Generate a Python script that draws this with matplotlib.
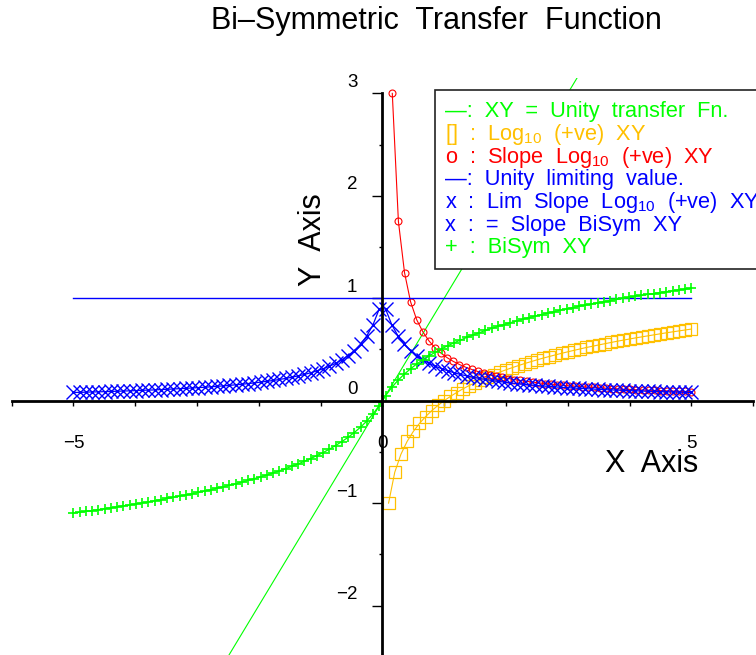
# Bi-symmetric transfer function chart

import matplotlib
matplotlib.use("Agg")
import matplotlib.pyplot as plt
import matplotlib.transforms as mtransforms
from matplotlib.patches import Rectangle

plt.rcParams['font.family'] = ['Liberation Sans', 'DejaVu Sans']
plt.rcParams['mathtext.fontset'] = 'custom'
plt.rcParams['mathtext.rm'] = 'Liberation Sans'
plt.rcParams['mathtext.it'] = 'Liberation Sans:italic'

GREEN = '#00ff00'
ORANGE = '#ffc000'
RED = '#ff0000'
BLUE = '#0000ff'

# unity transfer line and unity limiting value
unity_x = [-5.0, 5.0]
unity_y = [-5.0, 5.0]
limit_x = [-5.0, 5.0]
limit_y = [1.0, 1.0]

# log10 of positive x
log_x = [0.1, 0.2, 0.3, 0.4, 0.5, 0.6, 0.7, 0.8, 0.9, 1.0,
         1.1, 1.2, 1.3, 1.4, 1.5, 1.6, 1.7, 1.8, 1.9, 2.0,
         2.1, 2.2, 2.3, 2.4, 2.5, 2.6, 2.7, 2.8, 2.9, 3.0,
         3.1, 3.2, 3.3, 3.4, 3.5, 3.6, 3.7, 3.8, 3.9, 4.0,
         4.1, 4.2, 4.3, 4.4, 4.5, 4.6, 4.7, 4.8, 4.9, 5.0]
log_y = [-1.000, -0.699, -0.523, -0.398, -0.301, -0.222, -0.155, -0.097, -0.046, 0.000,
         0.041, 0.079, 0.114, 0.146, 0.176, 0.204, 0.230, 0.255, 0.279, 0.301,
         0.322, 0.342, 0.362, 0.380, 0.398, 0.415, 0.431, 0.447, 0.462, 0.477,
         0.491, 0.505, 0.519, 0.531, 0.544, 0.556, 0.568, 0.580, 0.591, 0.602,
         0.613, 0.623, 0.633, 0.643, 0.653, 0.663, 0.672, 0.681, 0.690, 0.699]

# slope of log10
slope_log_x = [0.160, 0.259, 0.358, 0.456, 0.555, 0.654, 0.753, 0.852, 0.950, 1.049,
               1.148, 1.247, 1.346, 1.444, 1.543, 1.642, 1.741, 1.840, 1.938, 2.037,
               2.136, 2.235, 2.334, 2.432, 2.531, 2.630, 2.729, 2.828, 2.926, 3.025,
               3.124, 3.223, 3.322, 3.420, 3.519, 3.618, 3.717, 3.816, 3.914, 4.013,
               4.112, 4.211, 4.310, 4.408, 4.507, 4.606, 4.705, 4.804, 4.902, 5.000]
slope_log_y = [3.000, 1.750, 1.250, 0.965, 0.790, 0.673, 0.584, 0.516, 0.463, 0.419,
               0.383, 0.353, 0.327, 0.305, 0.285, 0.268, 0.253, 0.239, 0.227, 0.216,
               0.206, 0.197, 0.189, 0.181, 0.174, 0.167, 0.161, 0.156, 0.150, 0.145,
               0.141, 0.137, 0.132, 0.129, 0.125, 0.122, 0.118, 0.115, 0.112, 0.110,
               0.107, 0.104, 0.102, 0.100, 0.098, 0.096, 0.094, 0.092, 0.090, 0.088]

# bi-symmetric curve and its slope
bisym_x = [-5.000, -4.899, -4.798, -4.697, -4.596, -4.495, -4.394, -4.293, -4.192, -4.091,
           -3.990, -3.889, -3.788, -3.687, -3.586, -3.485, -3.384, -3.283, -3.182, -3.081,
           -2.980, -2.879, -2.778, -2.677, -2.576, -2.475, -2.374, -2.273, -2.172, -2.071,
           -1.970, -1.869, -1.768, -1.667, -1.566, -1.465, -1.364, -1.263, -1.162, -1.061,
           -0.960, -0.859, -0.758, -0.657, -0.556, -0.455, -0.354, -0.253, -0.152, -0.051,
           0.051, 0.152, 0.253, 0.354, 0.455, 0.556, 0.657, 0.758, 0.859, 0.960,
           1.061, 1.162, 1.263, 1.364, 1.465, 1.566, 1.667, 1.768, 1.869, 1.970,
           2.071, 2.172, 2.273, 2.374, 2.475, 2.576, 2.677, 2.778, 2.879, 2.980,
           3.081, 3.182, 3.283, 3.384, 3.485, 3.586, 3.687, 3.788, 3.889, 3.990,
           4.091, 4.192, 4.293, 4.394, 4.495, 4.596, 4.697, 4.798, 4.899, 5.000]
bisym_y = [-1.097, -1.089, -1.081, -1.073, -1.064, -1.055, -1.046, -1.037, -1.027, -1.018,
           -1.008, -0.998, -0.988, -0.977, -0.967, -0.955, -0.944, -0.932, -0.921, -0.908,
           -0.896, -0.883, -0.869, -0.855, -0.841, -0.826, -0.811, -0.795, -0.778, -0.761,
           -0.743, -0.725, -0.705, -0.685, -0.663, -0.641, -0.617, -0.592, -0.565, -0.537,
           -0.507, -0.474, -0.438, -0.400, -0.358, -0.311, -0.259, -0.199, -0.130, -0.048,
           0.048, 0.130, 0.199, 0.259, 0.311, 0.358, 0.400, 0.438, 0.474, 0.507,
           0.537, 0.565, 0.592, 0.617, 0.641, 0.663, 0.685, 0.705, 0.725, 0.743,
           0.761, 0.778, 0.795, 0.811, 0.826, 0.841, 0.855, 0.869, 0.883, 0.896,
           0.908, 0.921, 0.932, 0.944, 0.955, 0.967, 0.977, 0.988, 0.998, 1.008,
           1.018, 1.027, 1.037, 1.046, 1.055, 1.064, 1.073, 1.081, 1.089, 1.097]
bisym_slope = [0.080, 0.081, 0.083, 0.085, 0.086, 0.088, 0.090, 0.092, 0.094, 0.096,
               0.098, 0.101, 0.103, 0.105, 0.108, 0.111, 0.114, 0.117, 0.120, 0.124,
               0.127, 0.131, 0.135, 0.140, 0.144, 0.149, 0.155, 0.160, 0.167, 0.173,
               0.181, 0.189, 0.197, 0.207, 0.217, 0.229, 0.242, 0.256, 0.272, 0.291,
               0.312, 0.336, 0.364, 0.398, 0.439, 0.489, 0.551, 0.632, 0.741, 0.896,
               0.896, 0.741, 0.632, 0.551, 0.489, 0.439, 0.398, 0.364, 0.336, 0.312,
               0.291, 0.272, 0.256, 0.242, 0.229, 0.217, 0.207, 0.197, 0.189, 0.181,
               0.173, 0.167, 0.160, 0.155, 0.149, 0.144, 0.140, 0.135, 0.131, 0.127,
               0.124, 0.120, 0.117, 0.114, 0.111, 0.108, 0.105, 0.103, 0.101, 0.098,
               0.096, 0.094, 0.092, 0.090, 0.088, 0.086, 0.085, 0.083, 0.081, 0.080]

legend_rows = [
    ("\u2014:  XY  =  Unity  transfer  Fn.", GREEN),
    ("[]  :  Log$_{10}$  (+ve)  XY", ORANGE),
    ("o  :  Slope  Log$_{10}$  (+ve)  XY", RED),
    ("\u2014:  Unity  limiting  value.", BLUE),
    ("x  :  Lim  Slope  Log$_{10}$  (+ve)  XY", BLUE),
    ("x  :  =  Slope  BiSym  XY", BLUE),
    ("+  :  BiSym  XY", GREEN),
]

W, H = 756, 655
fig = plt.figure(figsize=(W / 100, H / 100), dpi=100)
ax = fig.add_axes([11.7 / W, 0, 741.4 / W, 577 / H])
ax.set_xlim(-6, 6)
ax.set_ylim(-2.483, 3.15)

ax.plot(unity_x, unity_y, color=GREEN, lw=0.8)
ax.plot(log_x, log_y, color=ORANGE, lw=0.8, marker='s', ms=9,
        mfc='none', mec=ORANGE, mew=0.9)
ax.plot(slope_log_x, slope_log_y, color=RED, lw=0.8, marker='o', ms=5,
        mfc='none', mec=RED, mew=0.8)
ax.plot(limit_x, limit_y, color=BLUE, lw=1.0)
ax.plot(bisym_x, bisym_slope, color=BLUE, lw=0.9, marker='x', ms=9.5, mew=1.0)
ax.plot(bisym_x, bisym_y, color=GREEN, lw=0.9, marker='+', ms=7.5, mew=1.2)

# axes crossing at the origin
for side in ['top', 'right']:
    ax.spines[side].set_visible(False)
ax.spines['left'].set_position(('data', 0))
ax.spines['bottom'].set_position(('data', 0))
ax.spines['left'].set_bounds(-2.483, 3.0)
ax.spines['left'].set_linewidth(2.0)
ax.spines['bottom'].set_linewidth(2.0)
ax.set_facecolor('none')

ax.set_xticks([-5, 0, 5])
ax.set_xticklabels(['\u22125', '0', '5'])
ax.set_xticks(range(-6, 7), minor=True)
ax.tick_params(axis='x', which='both', direction='out', length=3.6, width=1.0,
               labelsize=13.5, pad=21)

ax.set_yticks([-2, -1, 0, 1, 2, 3])
ax.set_yticklabels(['\u22122', '\u22121', '0', '1', '2', '3'])
ax.set_yticks([-2, -1.5, -1, -0.5, 0, 0.5, 1, 1.5, 2, 2.5, 3], minor=True)
ax.tick_params(axis='y', which='major', direction='out', length=7, width=1.0,
               labelsize=13.5, pad=11)
ax.tick_params(axis='y', which='minor', direction='out', length=2.2, width=1.0)
shift = mtransforms.ScaledTranslation(0, 0.13, fig.dpi_scale_trans)
for lab in ax.get_yticklabels():
    lab.set_transform(lab.get_transform() + shift)

ax.text(4.36, -0.693, "X  Axis", ha='center', va='baseline', fontsize=22)
ax.text(-1.12, 1.57, "Y  Axis", ha='center', va='center', rotation=90, fontsize=22)

fig.text(436.7 / W, 1 - 21 / H, "Bi\u2013Symmetric  Transfer  Function",
         ha='center', va='center', fontsize=22)

# text-only legend box
box = Rectangle((435 / W, 1 - 269 / H), 330 / W, 179 / H, transform=fig.transFigure,
                facecolor='white', edgecolor='#222222', lw=1.2, zorder=5)
fig.add_artist(box)
for i, (label, colour) in enumerate(legend_rows):
    base = 117.3 + i * 22.67
    fig.text(445 / W, 1 - base / H, label, color=colour, fontsize=15.7,
             ha='left', va='baseline', zorder=6)

fig.savefig('out.png', dpi=100)
